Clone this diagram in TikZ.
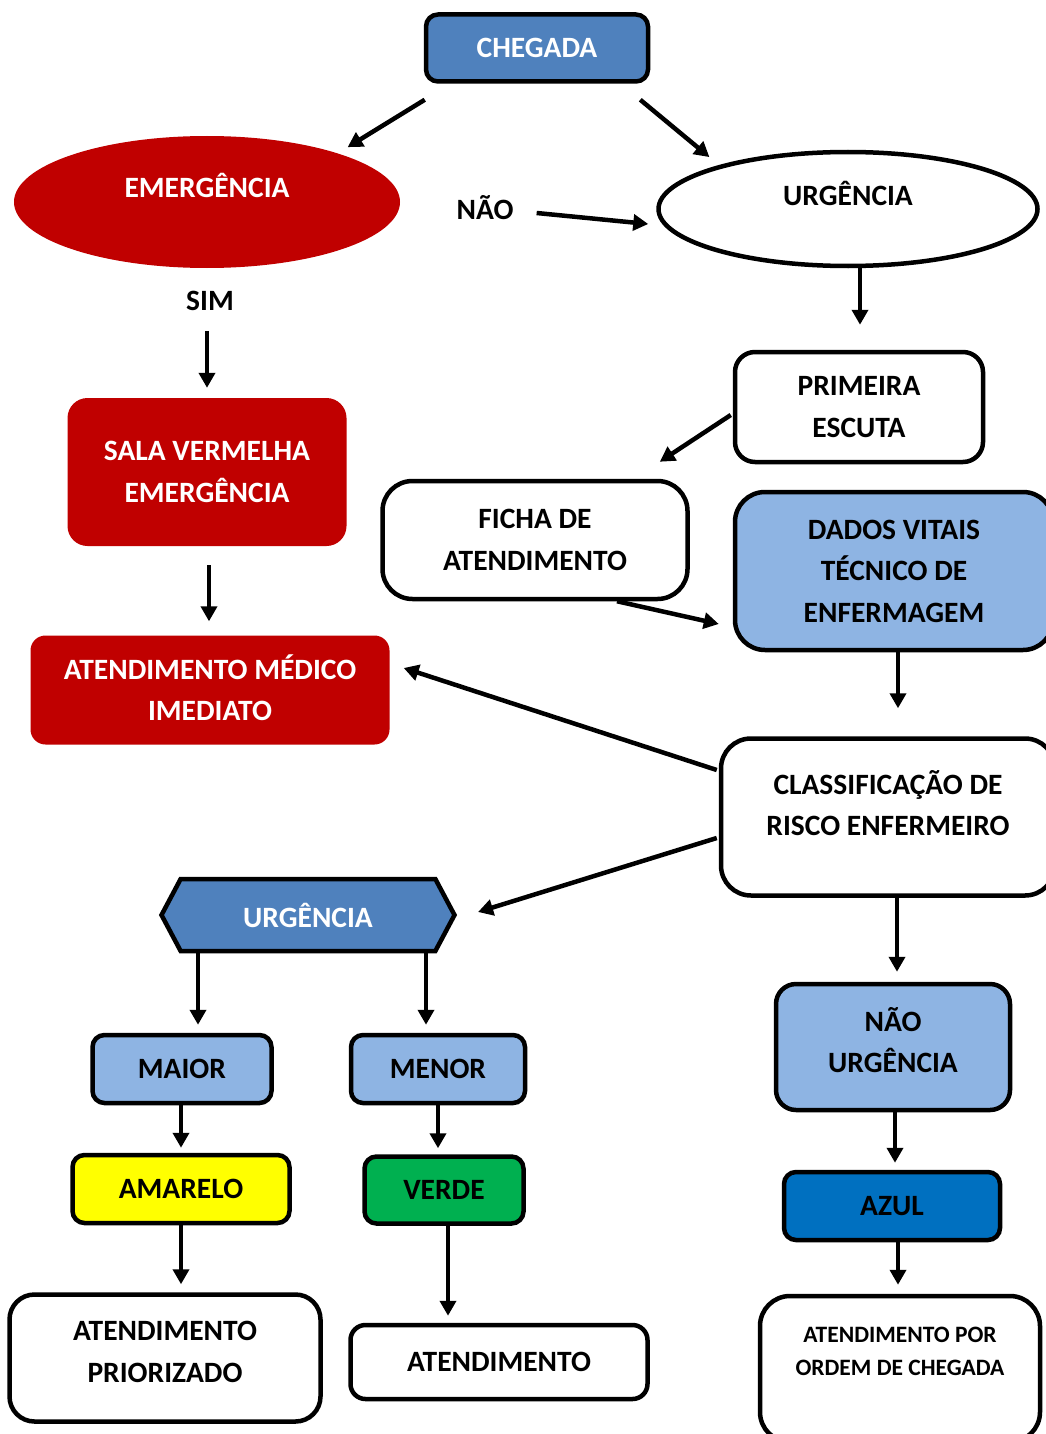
\documentclass[tikz,border=0pt]{standalone}
\usepackage{fontspec}
\setmainfont{Carlito}
\usetikzlibrary{arrows.meta,shapes.geometric,shapes.symbols}

\definecolor{bleufonce}{HTML}{4F81BD}
\definecolor{bleuclair}{HTML}{8EB4E3}
\definecolor{rougeurg}{HTML}{C00000}
\definecolor{jaune}{HTML}{FFFF00}
\definecolor{vert}{HTML}{00B050}
\definecolor{azul}{HTML}{0070C0}

\begin{document}
\begin{tikzpicture}[x=1pt,y=1pt]

\useasboundingbox (0,0) rectangle (1046,-1434);
\clip (0,0) rectangle (1046,-1434);
\fill[white] (0,0) rectangle (1046,-1434);

\newcommand*{\trait}{4.5pt}
\newcommand*{\grand}{\fontsize{29.5}{41.5}\selectfont\bfseries}
\newcommand*{\petit}{\fontsize{23.5}{33}\selectfont\bfseries}

\tikzstyle{boite} = [draw, line width=\trait, rounded corners=20pt, align=center, inner sep=0pt, font=\grand];
\tikzstyle{rouge} = [fill=rougeurg, text=white, rounded corners=20pt, align=center, inner sep=0pt, font=\grand];
\tikzstyle{etiq} = [inner sep=0pt, font=\grand];
\tikzstyle{fleche} = [line width=4.5pt, -{Triangle[length=15pt,width=16pt]}];

%haut:
\node[boite, fill=bleufonce, text=white, rounded corners=12pt, minimum width=222pt, minimum height=67pt] (chegada) at (537,-48) {CHEGADA};
\node[ellipse, fill=rougeurg, text=white, font=\grand, inner sep=0pt, minimum width=386pt, minimum height=132pt, text height=20pt, text depth=30pt] (emerg) at (207,-202) {EMERGÊNCIA};
\node[ellipse, draw, line width=\trait, fill=white, font=\grand, inner sep=0pt, minimum width=379pt, minimum height=114pt, text height=20pt, text depth=26pt] (urg) at (848,-209) {URGÊNCIA};
\node[etiq] (nao) at (485,-208) {NÃO};
\node[etiq] (sim) at (210,-301) {SIM};

%colonne rouge:
\node[rouge, minimum width=279pt, minimum height=148pt] (sala) at (207,-472) {SALA VERMELHA\\EMERGÊNCIA};
\node[rouge, rounded corners=15pt, minimum width=359pt, minimum height=109pt] (atmed) at (210,-690) {ATENDIMENTO MÉDICO\\IMEDIATO\\[-37pt]\mbox{}};

%colonne droite:
\node[boite, minimum width=248pt, minimum height=110pt] (prim) at (859,-407) {PRIMEIRA\\ESCUTA};
\node[boite, rounded corners=30pt, minimum width=305pt, minimum height=118pt] (ficha) at (535,-540) {FICHA DE\\ATENDIMENTO};
\node[boite, fill=bleuclair, rounded corners=30pt, minimum width=318pt, minimum height=158pt] (dados) at (894,-571) {DADOS VITAIS\\TÉCNICO DE\\ENFERMAGEM};
\node[boite, rounded corners=30pt, minimum width=334pt, minimum height=157pt] (classif) at (888,-817) {CLASSIFICAÇÃO DE\\RISCO ENFERMEIRO\\[-13pt]\mbox{}};
\node[boite, fill=bleuclair, minimum width=234pt, minimum height=126pt] (naourg) at (893,-1047) {NÃO\\URGÊNCIA\\[-27pt]\mbox{}};
\node[boite, fill=azul, rounded corners=12pt, minimum width=216pt, minimum height=68pt] (azul) at (892,-1206) {AZUL};
\node[boite, font=\petit, rounded corners=30pt, minimum width=280pt, minimum height=146pt] (ordem) at (900,-1369) {ATENDIMENTO POR\\ORDEM DE CHEGADA\\[3pt]\mbox{}};

%urgencia:
\node[draw, line width=\trait, fill=bleufonce, text=white, font=\grand, inner sep=0pt, shape=signal, signal to=west and east, signal pointer angle=124, minimum width=293pt, minimum height=72pt] (hex) at (308,-915) {URGÊNCIA};
\node[boite, fill=bleuclair, rounded corners=12pt, minimum width=179pt, minimum height=68pt] (maior) at (182,-1069) {MAIOR};
\node[boite, fill=bleuclair, rounded corners=12pt, minimum width=174pt, minimum height=68pt] (menor) at (438,-1069) {MENOR};
\node[boite, fill=jaune, rounded corners=12pt, minimum width=217pt, minimum height=68pt] (amarelo) at (181,-1189) {AMARELO};
\node[boite, fill=vert, rounded corners=12pt, minimum width=159pt, minimum height=67pt] (verde) at (444,-1190) {VERDE};
\node[boite, rounded corners=25pt, minimum width=311pt, minimum height=127pt] (prior) at (165,-1358) {ATENDIMENTO\\PRIORIZADO\\[-29pt]\mbox{}};
\node[boite, rounded corners=15pt, minimum width=297pt, minimum height=74pt] (atend) at (499,-1362) {ATENDIMENTO};

%fleches:
\draw[fleche] ([shift={(1,-16)}]chegada.south west) -- ([shift={(4,8)}]emerg.north east);
\draw[fleche] ([shift={(-10,-16)}]chegada.south east) -- ([shift={(-3,10)}]urg.north west);
\draw[fleche] ([shift={(23,-5)}]nao.east) -- ([shift={(-8,-15)}]urg.west);
\draw[fleche] ([xshift=12]urg.south) -- ([shift={(1,25)}]prim.north);
\draw[fleche] ([shift={(-2,-8)}]prim.west) -- ([shift={(-30,17)}]ficha.north east);
\draw[fleche] ([xshift=82]ficha.south) -- ([shift={(-14,-53)}]dados.west);
\draw[fleche] ([xshift=4]dados.south) -- ([shift={(10,28)}]classif.north);
\draw[fleche] ([shift={(-2,47)}]classif.west) -- ([shift={(14,22)}]atmed.east);
\draw[fleche] ([shift={(-2,-21)}]classif.west) -- ([shift={(21,3)}]hex.east);
\draw[fleche] ([xshift=9]classif.south) -- ([shift={(4,10)}]naourg.north);
\draw[fleche] ([shift={(-3,-20)}]sim.south) -- ([yshift=10]sala.north);
\draw[fleche] ([shift={(2,-19)}]sala.south) -- ([shift={(-1,14)}]atmed.north);
\draw[fleche] ([xshift=-110]hex.south) -- ([shift={(16,8)}]maior.north);
\draw[fleche] ([xshift=118]hex.south) -- ([shift={(-12,8)}]menor.north);
\draw[fleche] ([xshift=-1]maior.south) -- ([yshift=5]amarelo.north);
\draw[fleche] (menor.south) -- ([shift={(-6,6)}]verde.north);
\draw[fleche] (amarelo.south) -- ([shift={(16,8)}]prior.north);
\draw[fleche] ([xshift=4]verde.south) -- ([shift={(-51,7)}]atend.north);
\draw[fleche] ([xshift=2]naourg.south) -- ([shift={(3,7)}]azul.north);
\draw[fleche] ([xshift=6]azul.south) -- ([shift={(-2,9)}]ordem.north);

\end{tikzpicture}
\end{document}
